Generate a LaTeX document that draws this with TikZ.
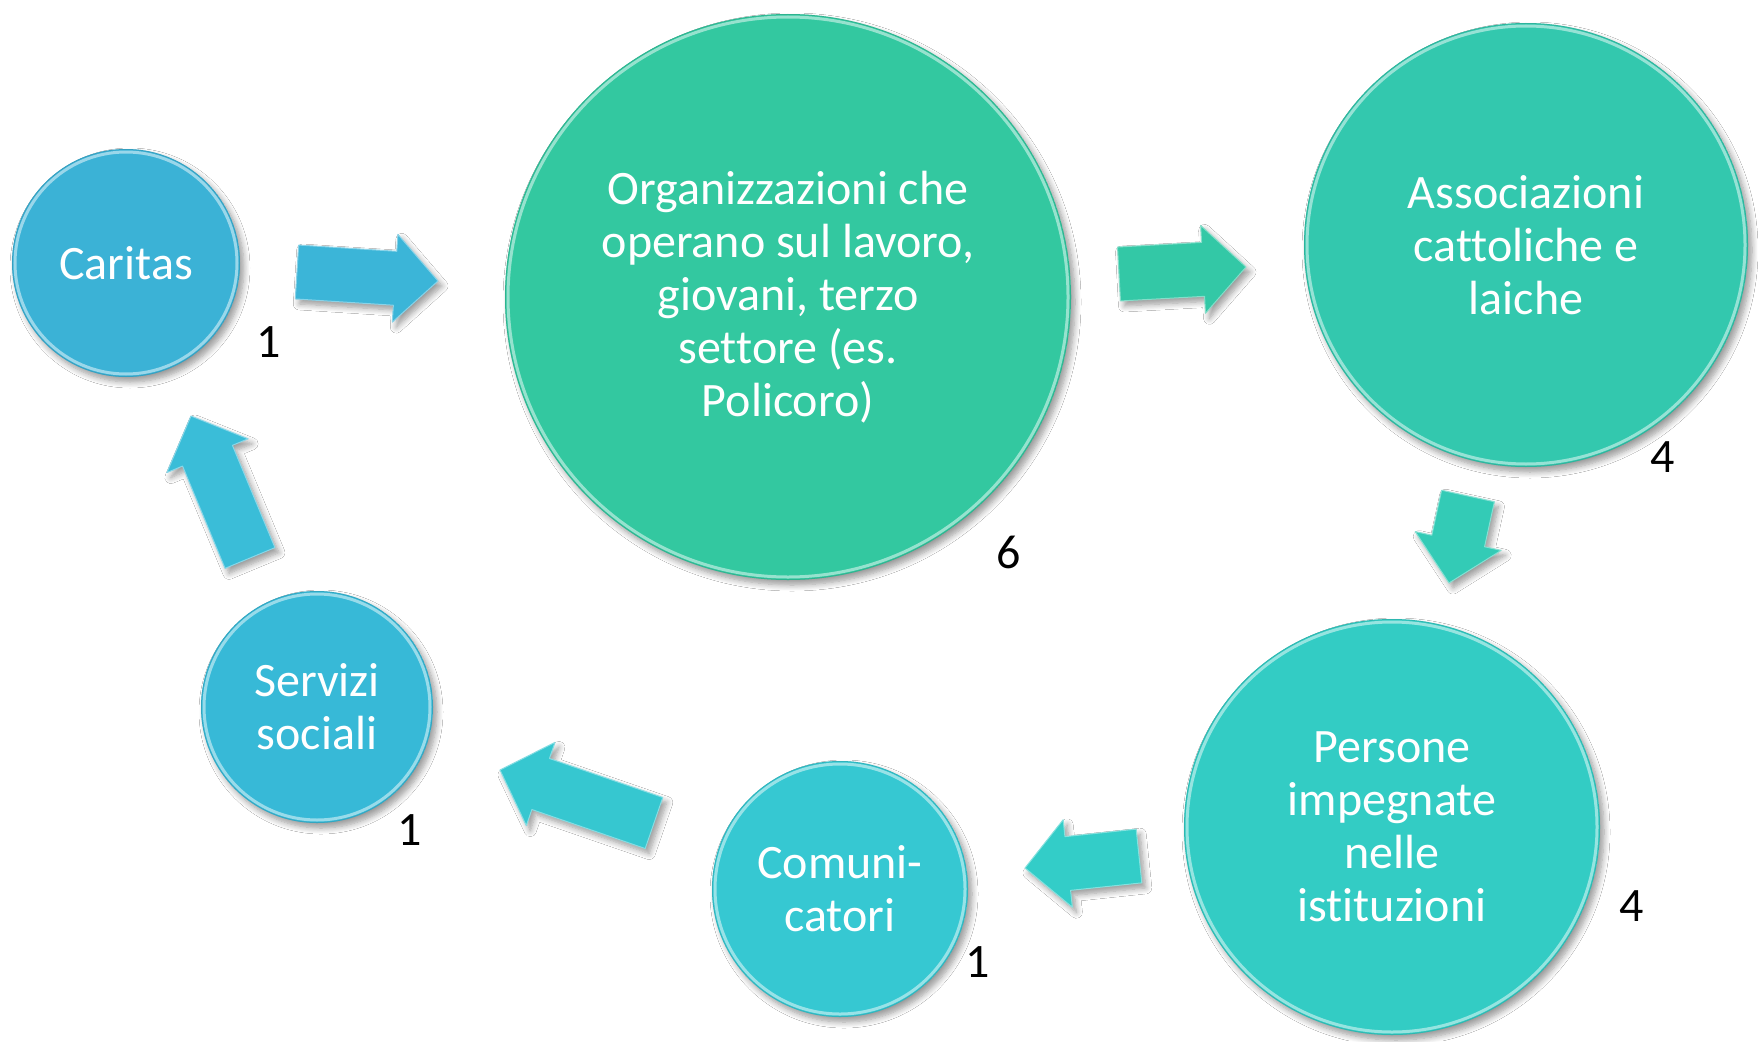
\documentclass[tikz,border=0pt]{standalone}
\usepackage{fontspec}
\setmainfont{Carlito}[Ligatures={NoCommon,NoContextual}]
\usetikzlibrary{calc,shadows.blur}

\definecolor{cCaritas}{HTML}{3BB2D6}
\definecolor{cOrg}{HTML}{33C8A0}
\definecolor{cAssoc}{HTML}{33C8AE}
\definecolor{cPersone}{HTML}{33CCC4}
\definecolor{cComun}{HTML}{36C8D2}
\definecolor{cServizi}{HTML}{37B9D7}
\definecolor{aOne}{HTML}{3BB5D8}
\definecolor{aTwo}{HTML}{33C8A6}
\definecolor{aThree}{HTML}{33CBB6}
\definecolor{aFour}{HTML}{33CDC8}
\definecolor{aFive}{HTML}{36C7D0}
\definecolor{aSix}{HTML}{3ABDD8}

\newcommand\bubblefont{\fontsize{48}{53}\selectfont}

\tikzset{
  softshadow/.style={blur shadow={shadow xshift=4pt, shadow yshift=-5pt,
      shadow blur steps=8, shadow blur radius=6pt, shadow opacity=40}},
  bubble/.style n args={2}{circle, fill=#1, minimum size=#2, inner sep=0pt,
      text=white, align=center, font=\bubblefont, softshadow,
      path picture={
        \draw[#1!35!white, line width=3pt, opacity=0.75]
          (path picture bounding box.center) circle[radius=#2/2-3pt];
        \draw[#1!80!black, line width=0.8pt, opacity=0.5]
          (path picture bounding box.center) circle[radius=#2/2-0.4pt];
      }},
  countlabel/.style={text=black, font=\bubblefont, inner sep=0pt},
  blockarrow/.style={fill=#1, draw=#1!60!white, line width=1pt,
      line join=round, softshadow},
}

% block arrow from the tail point #1 to the tip point #2, filled with #3
\newcommand\blockarrow[3]{%
  \coordinate (#1base) at ($(#2)!43pt!(#1)$);
  \path[blockarrow=#3]
    ($(#1)!27pt!90:(#2)$) -- ($(#1base)!27pt!90:(#2)$) --
    ($(#1base)!44pt!90:(#2)$) -- (#2) --
    ($(#1base)!44pt!-90:(#2)$) -- ($(#1base)!27pt!-90:(#2)$) --
    ($(#1)!27pt!-90:(#2)$) -- cycle;}

\begin{document}
\begin{tikzpicture}[x=1pt, y=-1pt]
  \fill[white] (0,0) rectangle (1758,1041);
  \useasboundingbox (0,0) rectangle (1758,1041);

  % circles of the cycle
  \node[bubble={cCaritas}{228pt}] (caritas) at (126,263) {Caritas};
  \node[bubble={cOrg}{566pt}] (org) at (788,297)
    {Organizzazioni che\\operano sul lavoro,\\giovani, terzo\\settore (es.\\Policoro)};
  \node[bubble={cAssoc}{444pt}] (assoc) at (1526,245)
    {Associazioni\\cattoliche e\\laiche};
  \node[bubble={cPersone}{416pt}] (persone) at (1392,827)
    {Persone\\impegnate\\nelle\\istituzioni};
  \node[bubble={cComun}{256pt}] (comun) at (840,889) {Comuni-\\catori};
  \node[bubble={cServizi}{232pt}] (servizi) at (317,707) {Servizi\\sociali};

  % counts beside each circle
  \node[countlabel] (ncaritas) at (269,342) {1};
  \node[countlabel] (norg) at (1009,552) {6};
  \node[countlabel] (nassoc) at (1663,457) {4};
  \node[countlabel] (npersone) at (1632,906) {4};
  \node[countlabel] (ncomun) at (978,962) {1};
  \node[countlabel] (nservizi) at (410,830) {1};

  % tail and tip of each block arrow
  \coordinate (aonet) at (297,272);   \coordinate (aonep) at (438,281);
  \coordinate (atwot) at (1119,274);  \coordinate (atwop) at (1246,267);
  \coordinate (athreet) at (1468,496);\coordinate (athreep) at (1449,583);
  \coordinate (afourt) at (1139,856); \coordinate (afourp) at (1025,868);
  \coordinate (afivet) at (654,823);  \coordinate (afivep) at (500,770);
  \coordinate (asixt) at (250,558);   \coordinate (asixp) at (191,416);

  \blockarrow{aonet}{aonep}{aOne}
  \blockarrow{atwot}{atwop}{aTwo}
  \blockarrow{athreet}{athreep}{aThree}
  \blockarrow{afourt}{afourp}{aFour}
  \blockarrow{afivet}{afivep}{aFive}
  \blockarrow{asixt}{asixp}{aSix}
\end{tikzpicture}
\end{document}
